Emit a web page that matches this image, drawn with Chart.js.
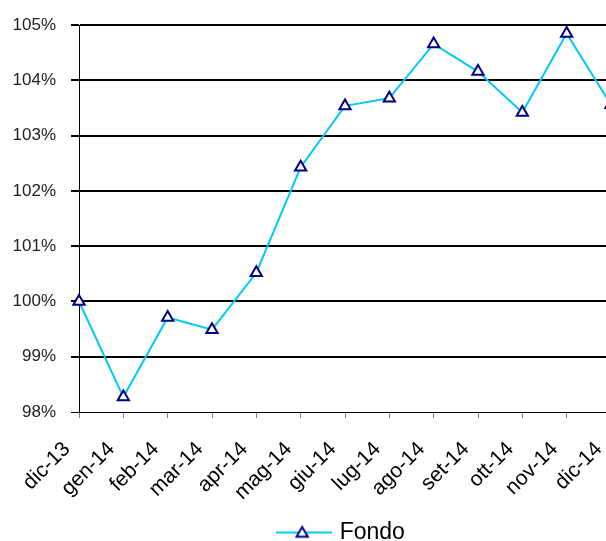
<!DOCTYPE html>
<html><head><meta charset="utf-8">
<script src="https://cdn.jsdelivr.net/npm/chart.js@4"></script>
<style>
html,body{margin:0;padding:0;overflow:hidden;background:#fff;width:606px;height:541px}
#wrap{width:606px;height:541px;overflow:hidden;position:relative;background:#fff}
canvas{position:absolute;left:0;top:0}
</style>
</head><body>
<div id="wrap"><canvas id="c" width="685" height="554"></canvas></div>
<script>
const categories = ['dic-13','gen-14','feb-14','mar-14','apr-14','mag-14','giu-14','lug-14','ago-14','set-14','ott-14','nov-14','dic-14'];
const fondoValues = [100.0, 98.27, 99.71, 99.49, 100.52, 102.43, 103.54, 103.68, 104.66, 104.16, 103.42, 104.85, 103.56];
const seriesName = 'Fondo';
const yMin = 98, yMax = 105, yStep = 1;

const LINE = '#00c8f8', NAVY = '#000080';

// legend icon: line with triangle marker
const icon = document.createElement('canvas');
icon.width = 56; icon.height = 16;
(function(){
  const g = icon.getContext('2d');
  g.strokeStyle = LINE; g.lineWidth = 2;
  g.beginPath(); g.moveTo(0, 8); g.lineTo(56, 8); g.stroke();
  const cx = 26, cy = 9, r = 6.5;
  g.beginPath();
  g.moveTo(cx, cy - r);
  g.lineTo(cx + r * 0.866, cy + r / 2);
  g.lineTo(cx - r * 0.866, cy + r / 2);
  g.closePath();
  g.fillStyle = '#fff'; g.fill();
  g.strokeStyle = NAVY; g.lineWidth = 2; g.stroke();
})();

new Chart(document.getElementById('c'), {
  type: 'line',
  data: {
    labels: categories,
    datasets: [{
      label: seriesName,
      data: fondoValues,
      borderColor: LINE,
      borderWidth: 2,
      tension: 0,
      pointStyle: 'triangle',
      pointRadius: 6.5,
      pointBorderWidth: 2,
      pointBorderColor: NAVY,
      pointBackgroundColor: '#fff',
      clip: false
    }]
  },
  options: {
    responsive: false,
    animation: false,
    devicePixelRatio: 1,
    layout: { padding: { top: 25, left: 0, right: 0, bottom: 0 } },
    plugins: {
      tooltip: { enabled: false },
      legend: {
        position: 'bottom',
        labels: {
          usePointStyle: true,
          pointStyle: icon,
          pointStyleWidth: 48,
          padding: 2,
          color: '#000',
          font: { family: 'Liberation Sans', size: 23 }
        }
      }
    },
    scales: {
      x: {
        offset: false,
        grid: { drawOnChartArea: false, drawTicks: true, tickLength: 6, color: '#808080' },
        border: { color: '#000', width: 1 },
        ticks: {
          minRotation: 45, maxRotation: 45, autoSkip: false,
          color: '#000', padding: 19, labelOffset: -12,
          font: { family: 'Liberation Sans', size: 21 }
        },
        afterFit(s) { s.height = 107; }
      },
      y: {
        min: yMin, max: yMax,
        ticks: {
          stepSize: yStep,
          callback: v => v + '%',
          color: '#222', padding: 15,
          font: { family: 'Liberation Sans', size: 17 }
        },
        grid: {
          color: '#000',
          lineWidth: c => (c.tick && c.tick.value === yMin) ? 1 : 2,
          tickLength: 8
        },
        border: { color: '#000', width: 1 },
        afterFit(s) { s.width = 79; }
      },
      yR: {
        position: 'right',
        display: true,
        grid: { display: false, drawTicks: false },
        ticks: { display: false },
        border: { display: false },
        afterFit(s) { s.width = 74; }
      }
    }
  }
});
</script>
</body></html>
